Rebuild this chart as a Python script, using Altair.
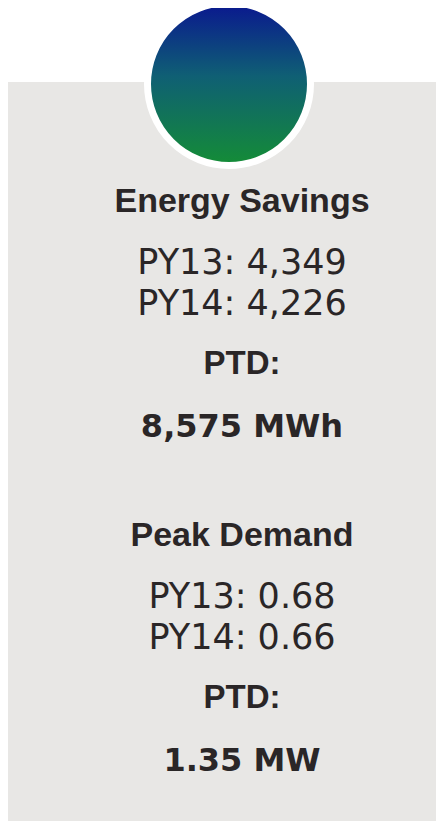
import altair as alt
import pandas as pd

# ---- data ----
sections = ["Energy Savings", "Peak Demand"]
py13 = [4349, 0.68]
py14 = [4226, 0.66]
ptd = [8575, 1.35]
units = ["MWh", "MW"]
decimals = [0, 2]

# ---- layout ----
W, H = 428, 813
PANEL_TOP = 74
CX, CY = 221, 76
CIRCLE_D = 163  # outer diameter incl. white ring (stroke centred on edge)
TEXT_X = 234
SECTION_BASE = 204
SECTION_STEP = 334
LINE_OFFSETS = {"title": 0, "py13": 61.5, "py14": 102.5, "ptdlabel": 162, "value": 225}
TEXT_COLOR = "#2a2627"


def fmt(v, d):
    return f"{v:,.{d}f}"


rows = []
for i, name in enumerate(sections):
    base = SECTION_BASE + i * SECTION_STEP
    d = decimals[i]
    rows.append(dict(kind="title", text=name, y=base + LINE_OFFSETS["title"]))
    rows.append(dict(kind="py13", text=f"PY13: {fmt(py13[i], d)}", y=base + LINE_OFFSETS["py13"]))
    rows.append(dict(kind="py14", text=f"PY14: {fmt(py14[i], d)}", y=base + LINE_OFFSETS["py14"]))
    rows.append(dict(kind="ptdlabel", text="PTD:", y=base + LINE_OFFSETS["ptdlabel"]))
    rows.append(dict(kind="value", text=f"{fmt(ptd[i], d)} {units[i]}", y=base + LINE_OFFSETS["value"]))
df = pd.DataFrame(rows)

yscale = alt.Scale(domain=[0, H], range=[0, H])
base = alt.Chart(df)

panel = alt.Chart(pd.DataFrame({"a": [0]})).mark_rect(color="#e8e7e5").encode(
    x=alt.value(0), x2=alt.value(W), y=alt.value(PANEL_TOP), y2=alt.value(H)
)

grad = alt.LinearGradient(
    gradient="linear",
    x1=0, x2=0, y1=0, y2=1,
    stops=[
        alt.GradientStop(color="#0a1a8e", offset=0.02),
        alt.GradientStop(color="#0f5f74", offset=0.45),
        alt.GradientStop(color="#148b38", offset=0.98),
    ],
)
circle = alt.Chart(pd.DataFrame({"a": [0]})).mark_circle(
    fill=grad, stroke="white", strokeWidth=7, opacity=1, size=CIRCLE_D ** 2
).encode(x=alt.value(CX), y=alt.value(CY))


def text_layer(kind, font, size, weight):
    return base.transform_filter(alt.datum.kind == kind).mark_text(
        font=font, fontSize=size, fontWeight=weight, color=TEXT_COLOR,
        align="center", baseline="alphabetic"
    ).encode(
        x=alt.value(TEXT_X),
        y=alt.Y("y:Q", scale=yscale, axis=None),
        text="text:N",
    )


layers = [
    panel,
    circle,
    text_layer("title", "Liberation Sans", 34, "bold"),
    text_layer("py13", "DejaVu Sans", 35, "normal"),
    text_layer("py14", "DejaVu Sans", 35, "normal"),
    text_layer("ptdlabel", "Liberation Sans", 33, "bold"),
    text_layer("value", "DejaVu Sans", 32, "bold"),
]

chart = alt.layer(*layers).properties(
    width=W, height=H, padding=0, autosize=alt.AutoSizeParams(type="none"),
    background="white"
).configure_view(stroke=None)

chart.save("out.html", embed_options={"renderer": "svg", "actions": False})
